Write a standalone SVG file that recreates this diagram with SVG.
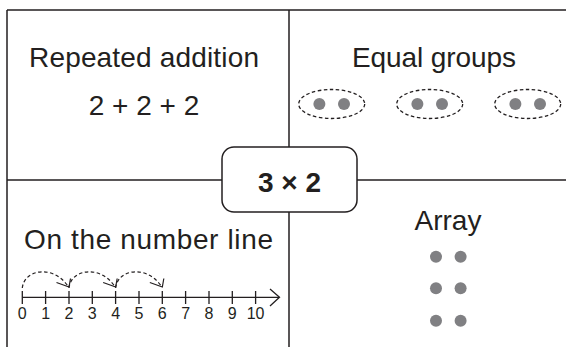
<svg xmlns="http://www.w3.org/2000/svg" width="566" height="347" viewBox="0 0 566 347">
<style>
.ln{stroke:#231f20;stroke-width:1.5;fill:none}
.t{font-family:"Liberation Sans",Arial,sans-serif;font-size:28px;fill:#231f20;text-anchor:middle}
.n{font-family:"Liberation Sans",Arial,sans-serif;font-size:16px;fill:#231f20;text-anchor:middle}
.dot{fill:#808083}
.ell{fill:none;stroke:#231f20;stroke-width:1.3;stroke-dasharray:3.5 2.5}
.jmp{fill:none;stroke:#231f20;stroke-width:1.2;stroke-dasharray:3.5 2.5}
.ah{fill:none;stroke:#231f20;stroke-width:1.2}
.ax{stroke:#231f20;stroke-width:1.3;fill:none}
</style>
<defs>
<g id="jump">
<path class="jmp" d="M22.3,288 C24,270 52,264 67.5,285.5"/>
<path class="ah" d="M56.5,282.5 L69,287 L70.5,278.5"/>
</g>
<g id="pair">
<circle class="dot" cx="-12.3" cy="0" r="6"/>
<circle class="dot" cx="12.3" cy="0" r="6"/>
</g>
</defs>
<rect width="566" height="347" fill="#fff"/>
<g id="connectors">
<path class="ln" d="M7,10 H566 M7,10 V347"/>
<path class="ln" d="M289,10 V147 M289,212 V347"/>
<path class="ln" d="M7,180 H222 M357,180 H566"/>
</g>
<g id="center">
<rect class="ln" x="222" y="147" width="135" height="65" rx="12"/>
<text class="t" x="289.5" y="192" font-weight="bold">3 × 2</text>
</g>
<g id="repeated-addition">
<text class="t" x="144" y="67" textLength="230">Repeated addition</text>
<text class="t" x="144" y="115">2 + 2 + 2</text>
</g>
<g id="equal-groups">
<text class="t" x="434" y="67" textLength="164">Equal groups</text>
<ellipse class="ell" cx="331.7" cy="104" rx="33" ry="14.5"/>
<use href="#pair" x="331.7" y="104"/>
<ellipse class="ell" cx="429.7" cy="104" rx="33" ry="14.5"/>
<use href="#pair" x="429.7" y="104"/>
<ellipse class="ell" cx="527.7" cy="104" rx="33" ry="14.5"/>
<use href="#pair" x="527.7" y="104"/>
</g>
<g id="number-line">
<text class="t" x="148.5" y="249" textLength="249">On the number line</text>
<path class="ax" d="M22.3,297.3 H279"/>
<path class="ax" d="M270,289 L279.5,297.3 L270,306"/>
<path class="ax" d="M22.3,291 V304 M45.6,291 V304 M69,291 V304 M92.3,291 V304 M115.6,291 V304 M139,291 V304 M162.3,291 V304 M185.6,291 V304 M209,291 V304 M232.3,291 V304 M255.6,291 V304"/>
<text class="n" x="22.3" y="319">0</text>
<text class="n" x="45.6" y="319">1</text>
<text class="n" x="69" y="319">2</text>
<text class="n" x="92.3" y="319">3</text>
<text class="n" x="115.6" y="319">4</text>
<text class="n" x="139" y="319">5</text>
<text class="n" x="162.3" y="319">6</text>
<text class="n" x="185.6" y="319">7</text>
<text class="n" x="209" y="319">8</text>
<text class="n" x="232.3" y="319">9</text>
<text class="n" x="255.6" y="319">10</text>
<use href="#jump"/>
<use href="#jump" x="46.67"/>
<use href="#jump" x="93.33"/>
</g>
<g id="array">
<text class="t" x="448" y="230">Array</text>
<use href="#pair" x="448.3" y="256.7"/>
<use href="#pair" x="448.3" y="288.3"/>
<use href="#pair" x="448.3" y="320.7"/>
</g>
</svg>
